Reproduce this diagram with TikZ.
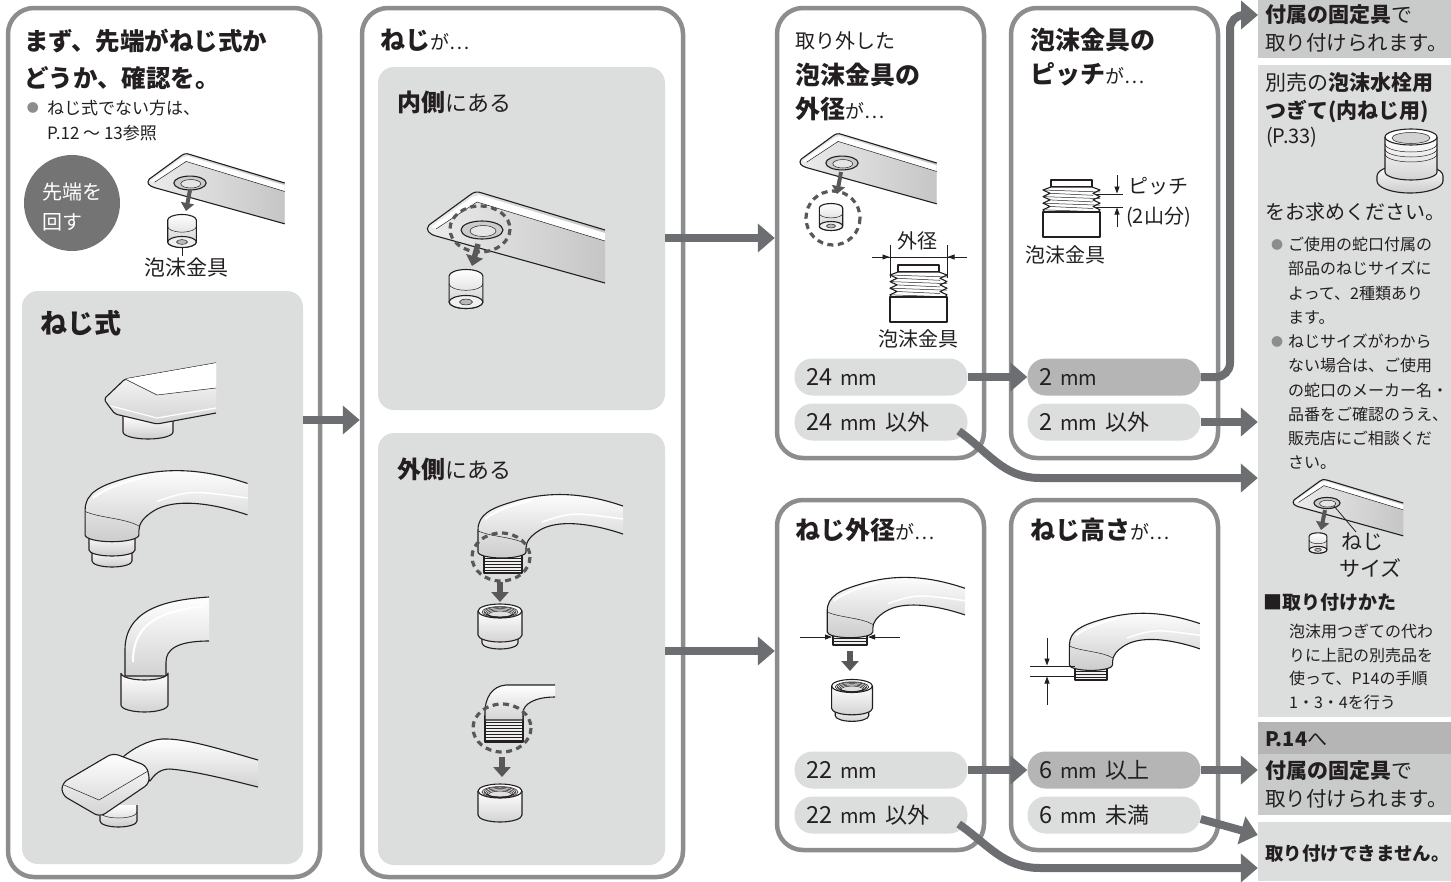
\documentclass[tikz,border=0pt]{standalone}
\usepackage{fontspec}
\setmainfont{Noto Sans CJK JP}
\usetikzlibrary{arrows.meta,calc}
\definecolor{panelc}{HTML}{8C8D8F}
\definecolor{lightf}{HTML}{DCDDDD}
\definecolor{arrowc}{HTML}{6D6E71}
\definecolor{darkpill}{HTML}{B5B5B6}
\definecolor{midf}{HTML}{C9CACA}
\definecolor{inkc}{HTML}{231F20}
\definecolor{metal}{HTML}{E6E7E8}
\definecolor{dashc}{HTML}{595757}
\definecolor{circc}{HTML}{747474}
\newcommand{\fs}[2]{\fontsize{#1}{#2}\selectfont}
\tikzset{
  panel/.style={draw=panelc, line width=4.5pt, rounded corners=26pt, fill=white, inner sep=0pt},
  innerbox/.style={fill=lightf, rounded corners=16pt, inner sep=0pt},
  colbox/.style={inner sep=0pt, minimum width=193pt},
  pill/.style={fill=lightf, rounded corners=18pt, minimum width=173pt, minimum height=37pt, inner sep=0pt, text width=149pt, align=left, font=\fs{23.5}{23.5}, text=inkc},
  darkpillst/.style={pill, fill=darkpill},
  conn/.style={draw=arrowc, line width=8pt, -{Triangle[length=17pt,width=28pt]}},
  txt/.style={inner sep=0pt, anchor=west, text=inkc},
  ctxt/.style={inner sep=0pt, text=inkc},
  outl/.style={draw=inkc, line width=1.1pt, fill=metal, line join=round},
  dimline/.style={draw=inkc, line width=0.8pt},
  dimarr/.style={dimline, -{Triangle[length=7pt,width=5pt]}},
  dashring/.style={draw=dashc, line width=3.2pt, dash pattern=on 6pt off 4.5pt},
  downarr/.style={draw=dashc, line width=5.5pt, -{Triangle[length=10pt,width=17pt]}},
  smalldown/.style={draw=dashc, line width=4pt, -{Triangle[length=8pt,width=13pt]}},
  thr/.style={draw=inkc, line width=0.5pt},
  aerator/.pic={
    \draw[outl, top color=white, bottom color=gray!40] (-13,-10) -- (-13,10) arc[start angle=180,end angle=0,x radius=13,y radius=5] -- (13,-10) arc[start angle=0,end angle=-180,x radius=13,y radius=5] -- cycle;
    \draw[thr] (-13,-4) arc[start angle=180,end angle=0,x radius=13,y radius=5];
    \draw[outl, fill=gray!12] (0,10) ellipse[x radius=13,y radius=5];
    \draw[thr, fill=gray!55] (0,10) ellipse[x radius=5,y radius=2.2];
  },
  nut/.pic={
    \draw[outl, top color=white, bottom color=gray!35] (-22,-14) -- (-22,10) arc[start angle=180,end angle=0,x radius=22,y radius=7] -- (22,-14);
    \draw[outl, fill=white] (0,-14) ellipse[x radius=22,y radius=7];
    \draw[thr, fill=gray!25] (0,-13) ellipse[x radius=18,y radius=5.5];
    \foreach \k in {0,1,2,3} {\draw[thr] (0,-13+\k*0.8) ellipse[x radius=16-\k*1.5,y radius=4.8-\k*0.5];}
  },
  nutstep/.pic={
    \draw[outl, top color=white, bottom color=gray!35] (-18,8) -- (-18,18) arc[start angle=180,end angle=0,x radius=18,y radius=6] -- (18,8);
  },
  spout/.pic={
    \draw[outl, top color=white, bottom color=gray!40] (121,-18) .. controls (85,-30) and (55,-32) .. (38,-22) .. controls (28,-16) and (24,-10) .. (24,-4) -- (24,0) arc[start angle=0,end angle=180,x radius=24,y radius=6] -- (-24,-22) .. controls (-24,-38) and (-10,-44) .. (10,-50) .. controls (45,-61) and (80,-60) .. (121,-46);
    \draw[white, line width=2pt] (-17,-33) .. controls (-5,-42) and (10,-47) .. (30,-52);
    \draw[thr] (-24,-21) .. controls (-10,-15) and (12,-15) .. (24,-8);
    \draw[white, line width=1.5pt] (40,-30) .. controls (70,-40) .. (121,-33);
  },
  barspout/.pic={
    \draw[outl, left color=gray!15, right color=gray!45] (123,53) -- (-46,6) .. controls (-53,4) and (-57,0) .. (-53,-5) -- (-12,-35) .. controls (-8,-38) and (-5,-39) .. (0,-37) -- (123,0);
    \fill[white] (-51,-3) -- (-10,-33) -- (-3,-35) -- (123,3) -- (123,11) -- (-5,-28) -- (-46,-1) -- cycle;
    \draw[thr] (-46,-1) -- (-5,-28) -- (123,11);
    \draw[outl, fill=gray!40] (0,0) ellipse[x radius=21,y radius=9];
    \draw[thr, fill=gray!20] (1,1) ellipse[x radius=13,y radius=5.5];
  },
  threadblock/.pic={
    \draw[outl, fill=white] (8,-7) rectangle (49,0);
    \draw[outl, fill=white] (8,0) -- (0,3) -- (7,6.3) -- (0,9.6) -- (7,12.9) -- (0,16.2) -- (7,19.5) -- (0,22.8) -- (2,25) -- (55,25) -- (57,22.8) -- (50,19.5) -- (57,16.2) -- (50,12.9) -- (57,9.6) -- (50,6.3) -- (57,3) -- (49,0) -- cycle;
    \foreach \k in {0,1,2,3} {
      \draw[thr] (0,3+6.6*\k) -- (57,5+6.6*\k);
      \draw[thr] (7,6.3+6.6*\k) -- (50,8.3+6.6*\k);
    }
    \draw[outl, fill=white] (0,25) rectangle (57,50);
  },
}
\begin{document}
\begin{tikzpicture}[x=1pt,y=-1pt]
\fill[white] (0,0) rectangle (1451,881);
\useasboundingbox (0,0) rectangle (1451,881);

% ---------- panels ----------
\node[panel, minimum width=312pt, minimum height=869pt] (P1) at (164,442.5) {};
\node[panel, minimum width=321pt, minimum height=869pt] (P2) at (522.5,442.5) {};
\node[panel, minimum width=207pt, minimum height=450pt] (P3) at (880.5,233) {};
\node[panel, minimum width=207pt, minimum height=450pt] (P4) at (1114.5,233) {};
\node[panel, minimum width=207pt, minimum height=350pt] (P5) at (880.5,675) {};
\node[panel, minimum width=207pt, minimum height=350pt] (P6) at (1114.5,675) {};

\node[innerbox, minimum width=281pt, minimum height=573pt] (L1in) at (162.5,577.5) {};
\node[innerbox, minimum width=287pt, minimum height=343pt] (P2a) at (521.5,238.5) {};
\node[innerbox, minimum width=287pt, minimum height=432pt] (P2b) at (521.5,649) {};

% ---------- right column ----------
\node[colbox, fill=midf, minimum height=58pt] (RA) at (1354.5,29) {};
\node[colbox, fill=lightf, minimum height=652pt] (RB) at (1354.5,391) {};
\node[colbox, fill=darkpill, minimum height=32pt] (RCh) at (1354.5,738) {};
\node[colbox, fill=midf, minimum height=61pt] (RC) at (1354.5,784.5) {};
\node[colbox, fill=lightf, minimum height=59pt] (RD) at (1354.5,851.5) {};

% ---------- pills ----------
\node[pill] (p24) at (881,377) {24 {\fs{20}{20}mm}};
\node[pill] (p24n) at (881,422) {24 {\fs{20}{20}mm} {\fs{22}{22}以外}};
\node[darkpillst] (p2) at (1114,377) {2 {\fs{20}{20}mm}};
\node[pill] (p2n) at (1114,422) {2 {\fs{20}{20}mm} {\fs{22}{22}以外}};
\node[pill] (p22) at (881,770) {22 {\fs{20}{20}mm}};
\node[pill] (p22n) at (881,815) {22 {\fs{20}{20}mm} {\fs{22}{22}以外}};
\node[darkpillst] (p6u) at (1114,770) {6 {\fs{20}{20}mm} {\fs{22}{22}以上}};
\node[pill] (p6d) at (1114,815) {6 {\fs{20}{20}mm} {\fs{22}{22}未満}};

% ---------- connectors ----------
\coordinate (yA) at (0,420);
\coordinate (yB) at (0,238);
\coordinate (yC) at (0,651);
\coordinate (cA) at (1230,15);
\coordinate (tA) at (1258,15);
\coordinate (yD) at (0,478);
\coordinate (yE) at (0,835);
\coordinate (yF) at (0,868);
\draw[conn] (L1in.east |- yA) -- (P2.west |- yA);
\draw[conn] (P2a.east |- yB) -- (P3.west |- yB);
\draw[conn] (P2b.east |- yC) -- (P5.west |- yC);
\draw[conn] (p24.east) -- (p2.west);
\draw[conn, rounded corners=14pt] (p2.east) -| (cA) -- (tA);
\draw[conn] (p2n.east) -- (RB.west |- p2n.east);
\draw[conn] ($(p24n.east)+(-9,9)$) to[out=-35,in=180] (1040,478) -- (RB.west |- yD);
\draw[conn] (p22.east) -- (p6u.west);
\draw[conn] (p6u.east) -- (RC.west |- p6u.east);
\draw[conn] ([yshift=-4pt]p6d.east) -- (RD.west |- yE);
\draw[conn] ($(p22n.east)+(-9,9)$) to[out=-35,in=180] (1040,868) -- (RD.west |- yF);

% ---------- left panel ----------
\node[txt, font=\bfseries\fs{24.5}{24.5}] (t1) at (24,41) {まず、先端がねじ式か};
\node[txt, font=\bfseries\fs{24.5}{24.5}] (t2) at (24,78) {どうか、確認を。};
\node[ctxt, text=panelc, font=\fs{12}{12}] (t3b) at (33,108) {●};
\node[txt, font=\fs{17}{17}] (t3) at (47,108) {ねじ式でない方は、};
\node[txt, font=\fs{17}{17}] (t4) at (47,133) {P.12 ～ 13参照};
\node[circle, fill=circc, minimum size=96pt, inner sep=0pt] (C1) at (72,203) {};
\node[inner sep=0pt, text=white, align=left, font=\fs{20}{30}, anchor=west] (C1t) at (42,207) {先端を\\回す};
\pic[scale=0.77] at (190,183) {barspout};
\draw[smalldown] (190,190) -- (186,211);
\pic[scale=1.1] at (182,231) {aerator};
\draw[inkc, line width=0.8pt] (182,247) -- (182,256);
\node[ctxt, font=\fs{21}{21}] (lab1) at (186,268) {泡沫金具};
\node[txt, font=\bfseries\fs{27}{27}] (t5) at (40,323) {ねじ式};

% F1
\draw[outl, top color=white, bottom color=gray!40] (123,416) -- (123,432) arc[start angle=180,end angle=0,x radius=25,y radius=7] -- (173,416);
\draw[outl, top color=white, bottom color=gray!35, rounded corners=2pt] (216,363) -- (125,379) -- (104,399) -- (108,405) -- (115,414) -- (157,424) -- (216,413);
\fill[white] (125,379) -- (216,363) -- (216,388) -- (157,395) -- cycle;
\draw[thr] (125,379) -- (157,395) -- (216,388);
\draw[white, line width=1.2pt] (111,406) -- (157,418) -- (216,408);
% F2
\draw[outl, top color=white, bottom color=gray!40] (92,550) -- (92,561) arc[start angle=180,end angle=0,x radius=20,y radius=6] -- (132,550);
\draw[outl, top color=white, bottom color=gray!40] (89,535) -- (89,550) arc[start angle=180,end angle=0,x radius=23,y radius=6] -- (135,535);
\pic[xscale=1.12, yscale=1.12] at (112,535) {spout};
% F3
\draw[outl, top color=white, bottom color=gray!35] (209,597) .. controls (160,600) and (125,612) .. (125,650) -- (125,676) -- (166,676) -- (166,662) .. controls (166,650) and (176,641) .. (209,641);
\draw[white, line width=2pt] (133,662) .. controls (133,628) and (152,612) .. (205,606);
\draw[outl, top color=white, bottom color=gray!35] (121,673) -- (121,705) arc[start angle=180,end angle=0,x radius=23.5,y radius=7] -- (168,673) arc[start angle=0,end angle=180,x radius=23.5,y radius=7];
% F4
\draw[outl, top color=white, bottom color=gray!40] (100,805) -- (100,821) arc[start angle=180,end angle=0,x radius=18.5,y radius=6] -- (137,805);
\draw[thr] (100,812) arc[start angle=180,end angle=0,x radius=18.5,y radius=6];
\draw[outl, top color=white, bottom color=gray!35] (258,760) .. controls (220,749) and (185,738) .. (162,739) .. controls (148,740) and (132,749) .. (123,757) -- (150,781) .. controls (155,774) and (160,769) .. (170,769) .. controls (195,771) and (230,780) .. (258,787);
\draw[outl, top color=white, bottom color=gray!35, rounded corners=6pt] (62,783) -- (113,753) -- (147,766) -- (150,783) -- (100,817) -- (62,795) -- cycle;
\draw[thr] (64,785) -- (99,800) -- (148,771);

% ---------- panel 2 ----------
\node[txt, font=\fs{25}{25}] (h2) at (380,40) {\bfseries ねじ\mdseries\fs{19}{19}が…};
\node[txt, font=\fs{24}{24}] (h2a) at (397,102) {\bfseries 内側\mdseries\fs{22}{22}にある};
\node[txt, font=\fs{24}{24}] (h2b) at (397,469) {\bfseries 外側\mdseries\fs{22}{22}にある};
\pic at (482,230) {barspout};
\draw[dashring] (480,229) ellipse[x radius=30,y radius=23];
\draw[downarr] (478,244) -- (472,266);
\pic[scale=1.3] at (466,289) {aerator};
% outer 1
\draw[outl, fill=gray!12] (484,548) rectangle (522,573);
\foreach \yy in {555,558,...,571} {\draw[thr] (484,\yy) -- (522,\yy);}
\pic at (502,552) {spout};
\draw[dashring] (501,557) ellipse[x radius=29,y radius=24];
\draw[downarr] (500,582) -- (500,602);
\pic at (500,625) {nutstep};
\pic at (500,625) {nut};
% outer 2
\draw[outl, fill=gray!12] (485,716) rectangle (523,742);
\foreach \yy in {722,725,...,740} {\draw[thr] (485,\yy) -- (523,\yy);}
\draw[outl, top color=white, bottom color=gray!35] (555,685) -- (506,685) .. controls (492,686) and (485,698) .. (485,712) -- (485,720) -- (523,720) -- (523,713) .. controls (523,704) and (535,697) .. (555,697);
\draw[dashring] (502,728) ellipse[x radius=29,y radius=24];
\draw[downarr] (502,757) -- (502,777);
\pic at (500,805) {nut};

% ---------- panel 3 ----------
\node[txt, font=\fs{20}{20}] (h3a) at (795,41) {取り外した};
\node[txt, font=\bfseries\fs{25}{25}] (h3b) at (795,75) {泡沫金具の};
\node[txt, font=\fs{25}{25}] (h3c) at (795,109) {\bfseries 外径\mdseries\fs{19}{19}が…};
\pic[scale=0.77] at (842,163) {barspout};
\draw[smalldown] (841,172) -- (837,194);
\pic[scale=0.9] at (831,217) {aerator};
\draw[dashring] (833,218) circle[radius=27];
\node[ctxt, font=\fs{20}{20}] (l3a) at (917,241) {外径};
\draw[dimline] (890,245) -- (890,278);
\draw[dimline] (947,245) -- (947,278);
\draw[dimline] (872,257) -- (967,257);
\draw[dimarr] (872,257) -- (889.5,257);
\draw[dimarr] (967,257) -- (947.5,257);
\pic at (890,272) {threadblock};
\node[ctxt, font=\fs{20}{20}] (l3b) at (918,339) {泡沫金具};

% ---------- panel 4 ----------
\node[txt, font=\bfseries\fs{25}{25}] (h4a) at (1030,40) {泡沫金具の};
\node[txt, font=\fs{25}{25}] (h4b) at (1030,74) {\bfseries ピッチ\mdseries\fs{19}{19}が…};
\pic at (1043,187) {threadblock};
\draw[dimline] (1095,194) -- (1123,194);
\draw[dimline] (1095,207) -- (1123,207);
\draw[dimarr] (1117,175) -- (1117,193.5);
\draw[dimarr] (1117,227) -- (1117,207.5);
\node[txt, font=\fs{20}{20}] (l4a) at (1128,186) {ピッチ};
\node[txt, font=\fs{20}{20}] (l4b) at (1126,217) {(2山分)};
\node[txt, font=\fs{20}{20}] (l4c) at (1025,255) {泡沫金具};

% ---------- panel 5 ----------
\node[txt, font=\fs{25}{25}] (h5) at (795,530) {\bfseries ねじ外径\mdseries\fs{19}{19}が…};
\draw[outl, fill=gray!12] (833,628) rectangle (867,645);
\foreach \yy in {635,638,641} {\draw[thr] (833,\yy) -- (867,\yy);}
\pic[scale=0.95] at (850,632) {spout};
\draw[dimarr] (800,637) -- (832,637);
\draw[dimarr] (900,637) -- (868,637);
\draw[downarr] (850,651) -- (850,671);
\pic[scale=0.93] at (852,699) {nutstep};
\pic[scale=0.93] at (852,699) {nut};

% ---------- panel 6 ----------
\node[txt, font=\fs{25}{25}] (h6) at (1030,530) {\bfseries ねじ高さ\mdseries\fs{19}{19}が…};
\draw[outl, fill=gray!12] (1075,660) rectangle (1107,680);
\foreach \yy in {668,671,674,677} {\draw[thr] (1075,\yy) -- (1107,\yy);}
\pic[scale=0.9] at (1091,665) {spout};
\draw[dimline] (1030,666) -- (1075,666);
\draw[dimline] (1030,676) -- (1075,676);
\draw[dimarr] (1047,638) -- (1047,665.5);
\draw[dimarr] (1047,705) -- (1047,676.5);

% ---------- right column text ----------
\node[txt, font=\fs{21}{21}] (ra1) at (1265,15) {\bfseries 付属の固定具\mdseries で};
\node[txt, font=\fs{20.5}{20.5}] (ra2) at (1265,43) {取り付けられます。};
\node[txt, font=\fs{21}{21}] (rb1) at (1265,83) {別売の\bfseries 泡沫水栓用};
\node[txt, font=\bfseries\fs{21}{21}] (rb2) at (1265,111) {つぎて(内ねじ用)};
\node[txt, font=\fs{20}{20}] (rb3) at (1266,137) {(P.33)};
% adapter
\draw[outl, top color=white, bottom color=gray!40] (1377,176) -- (1377,181) arc[start angle=180,end angle=0,x radius=33,y radius=12] -- (1443,176) arc[start angle=0,end angle=-180,x radius=33,y radius=12] -- cycle;
\draw[outl, top color=white, bottom color=gray!35] (1385,137) -- (1385,172) arc[start angle=180,end angle=0,x radius=26,y radius=8] -- (1437,172) -- (1437,137);
\foreach \yy in {144,149,154} {\draw[thr] (1385,\yy) arc[start angle=180,end angle=0,x radius=26,y radius=8];}
\draw[outl, fill=white] (1411,137) ellipse[x radius=26,y radius=8];
\draw[thr, fill=gray!35] (1411,138) ellipse[x radius=19,y radius=5.5];
\node[txt, font=\fs{20}{20}] (rb4) at (1265,212) {をお求めください。};
\node[ctxt, text=panelc, font=\fs{12}{12}] (bl1) at (1277,245) {●};
\node[txt, anchor=north west, align=left, font=\fs{16}{24.2}] (rb5) at (1288,237) {ご使用の蛇口付属の\\部品のねじサイズに\\よって、2種類あり\\ます。};
\node[ctxt, text=panelc, font=\fs{12}{12}] (bl2) at (1277,342) {●};
\node[txt, anchor=north west, align=left, font=\fs{16}{24.2}] (rb6) at (1288,334) {ねじサイズがわから\\ない場合は、ご使用\\の蛇口のメーカー名・\\品番をご確認のうえ、\\販売店にご相談くだ\\さい。};
\pic[scale=0.62] at (1327,503) {barspout};
\draw[smalldown] (1325,510) -- (1321,530);
\pic[scale=0.68] at (1318,543) {aerator};
\draw[inkc, line width=0.8pt] (1334,506) -- (1356,532);
\node[txt, font=\fs{21}{21}] (rb7) at (1341,542) {ねじ};
\node[txt, font=\fs{21}{21}] (rb8) at (1339,568) {サイズ};
\node[txt, font=\bfseries\fs{19}{19}] (rb9) at (1263,602) {■取り付けかた};
\node[txt, anchor=north west, align=left, font=\fs{16}{23.5}] (rb10) at (1289,624) {泡沫用つぎての代わ\\りに上記の別売品を\\使って、P14の手順\\1・3・4を行う};
\node[txt, font=\fs{20}{20}] (rc0) at (1265,739) {\bfseries P.14\mdseries へ};
\node[txt, font=\fs{21}{21}] (rc1) at (1265,771) {\bfseries 付属の固定具\mdseries で};
\node[txt, font=\fs{20.5}{20.5}] (rc2) at (1265,799) {取り付けられます。};
\node[txt, font=\bfseries\fs{18.5}{18.5}] (rd1) at (1265,854) {取り付けできません。};
\end{tikzpicture}
\end{document}
